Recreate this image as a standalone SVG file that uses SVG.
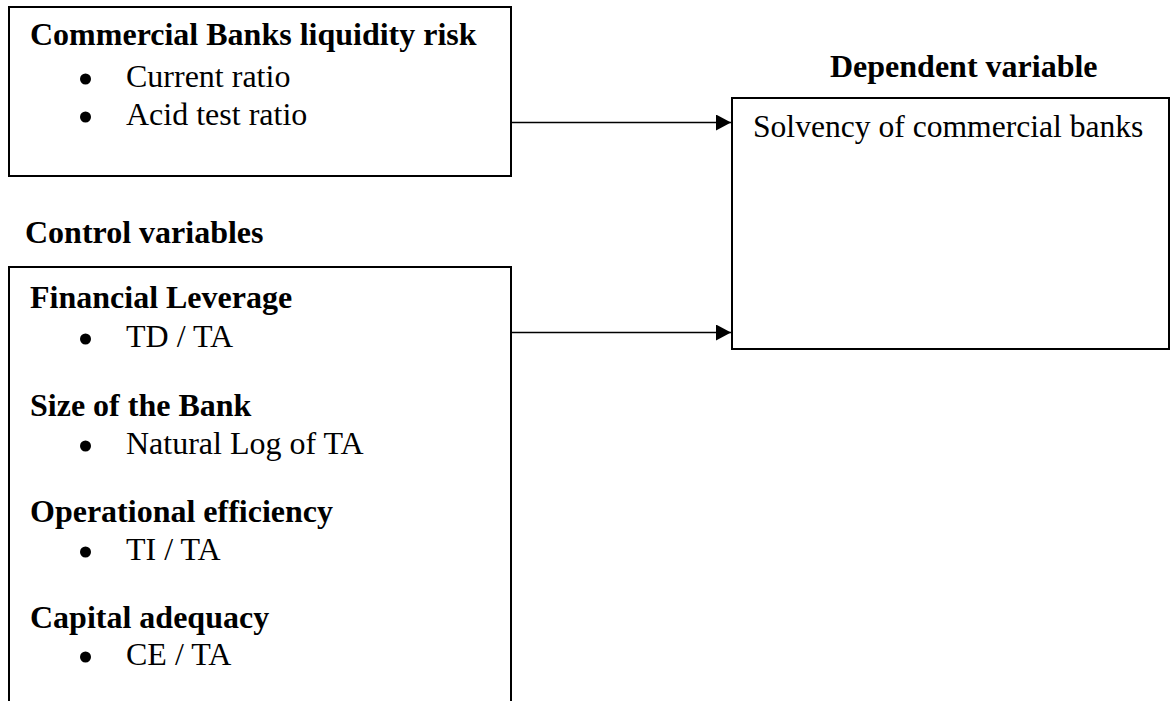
<svg xmlns="http://www.w3.org/2000/svg" width="1172" height="701" viewBox="0 0 1172 701">
<style>
.box{fill:none;stroke:#000;stroke-width:2}
.t{font-family:"Liberation Serif","Times New Roman",serif;font-size:32px;fill:#000}
.b{font-weight:bold}
.bul{fill:#000}
.conn{stroke:#000;stroke-width:1.4;fill:none}
</style>
<defs>
<marker id="arr" markerWidth="16" markerHeight="16" refX="15" refY="8" orient="auto" markerUnits="userSpaceOnUse">
<path d="M0,0 L15,8 L0,16 Z" fill="#000"/>
</marker>
</defs>
<rect width="1172" height="701" fill="#fff"/>
<g id="liquidity">
<rect class="box" x="9" y="7" width="502" height="169"/>
<text class="t b" x="30" y="45">Commercial Banks liquidity risk</text>
<circle class="bul" cx="85.5" cy="79" r="5.5"/>
<text class="t" x="126" y="87">Current ratio</text>
<circle class="bul" cx="85.5" cy="117" r="5.5"/>
<text class="t" x="126" y="125">Acid test ratio</text>
</g>
<g id="dependent">
<text class="t b" x="830" y="77">Dependent variable</text>
<rect class="box" x="732" y="98" width="437" height="251"/>
<text class="t" x="753" y="137" style="font-size:31.6px">Solvency of commercial banks</text>
</g>
<g id="control">
<text class="t b" x="25" y="243">Control variables</text>
<path class="box" d="M9,712 V267 H511 V712"/>
<text class="t b" x="30" y="308">Financial Leverage</text>
<circle class="bul" cx="85.5" cy="339" r="5.5"/>
<text class="t" x="126" y="347">TD / TA</text>
<text class="t b" x="30" y="416">Size of the Bank</text>
<circle class="bul" cx="85.5" cy="446" r="5.5"/>
<text class="t" x="126" y="454">Natural Log of TA</text>
<text class="t b" x="30" y="522">Operational efficiency</text>
<circle class="bul" cx="85.5" cy="552" r="5.5"/>
<text class="t" x="126" y="560">TI / TA</text>
<text class="t b" x="30" y="628">Capital adequacy</text>
<circle class="bul" cx="85.5" cy="657" r="5.5"/>
<text class="t" x="126" y="665">CE / TA</text>
</g>
<g id="connectors">
<line class="conn" x1="511" y1="122.5" x2="731" y2="122.5" marker-end="url(#arr)"/>
<line class="conn" x1="511" y1="332.5" x2="731" y2="332.5" marker-end="url(#arr)"/>
</g>
</svg>
